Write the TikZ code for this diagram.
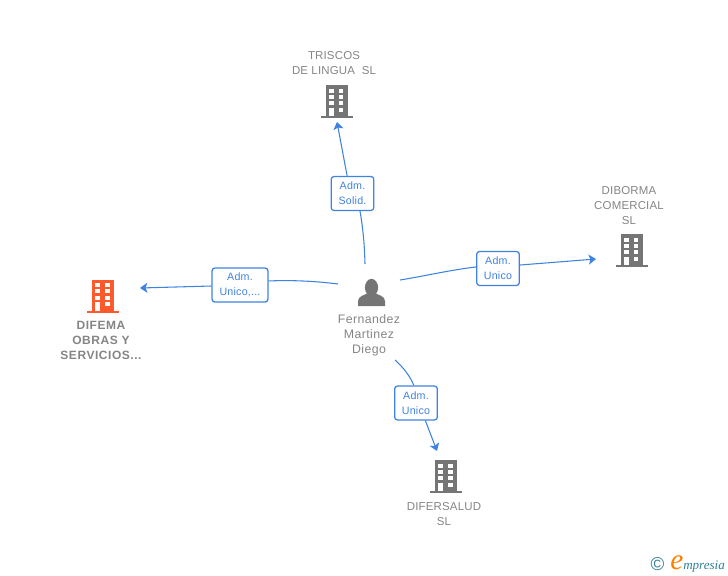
\documentclass[tikz,border=0pt]{standalone}
\usepackage{fontspec}
\setmainfont{Liberation Sans}
\newfontfamily\logofont{Liberation Serif}
\usetikzlibrary{arrows.meta}
\definecolor{linkblue}{HTML}{3F83E0}
\definecolor{labelgray}{HTML}{858585}
\definecolor{iconorange}{HTML}{FF5A2B}
\definecolor{icongray}{HTML}{757575}
\definecolor{logoteal}{HTML}{2F7F96}
\tikzset{
  bldg/.pic={
    \fill (-11,-16.5) rectangle (11,14.5);
    \fill (-16,14.5) rectangle (16,16.5);
    \foreach \cx in {-7.6,2}
      \foreach \cy in {-13,-6.7,-0.4}
        \fill[white] (\cx,\cy) rectangle ++(4.6,4);
    \fill[white] (-7.6,6) rectangle (-3,14.5);
    \fill[white] (2,6) rectangle (6.6,10);
  },
  caption/.style={font=\fontsize{8.6}{11.25}\selectfont\addfontfeature{LetterSpace=1.5}, text=labelgray, align=center, inner sep=0pt},
  rolebox/.style={draw=linkblue, fill=white, rounded corners=2.2pt, line width=0.95pt, text=linkblue,
    font=\fontsize{8}{11.25}\selectfont\addfontfeature{LetterSpace=2}, align=center, inner sep=0pt, minimum height=25.5pt},
  link/.style={linkblue, line width=0.8pt},
  arrowlink/.style={link, -{Stealth[length=5.5pt,width=7.5pt,inset=1.3pt]}}
}
\begin{document}
\begin{tikzpicture}[x=0.75pt,y=-0.75pt]
  \useasboundingbox (0,0) rectangle (728,575);

  % buildings
  \pic[fill=icongray] at (336.7,101.5) {bldg};
  \pic[fill=icongray] at (631.7,250.8) {bldg};
  \pic[fill=iconorange] at (103,296) {bldg};
  \pic[fill=icongray] at (446,476.7) {bldg};

  % person
  \fill[icongray] (371.5,287.5) ellipse (6.6 and 8.6);
  \fill[icongray] (358,306) -- (358,301) .. controls (358,296) and (365,295) .. (368,293)
    -- (375,293) .. controls (378,295) and (385,296) .. (385,301) -- (385,306) -- cycle;

  % captions
  \node[caption] (triscos) at (334,63) {TRISCOS\\DE LINGUA~~SL};
  \node[caption] (diborma) at (629,205.5) {DIBORMA\\COMERCIAL\\SL};
  \node[caption, font=\fontsize{9}{11.25}\bfseries\selectfont\addfontfeature{LetterSpace=4.5}] (difema) at (101,340) {DIFEMA\\OBRAS Y\\SERVICIOS...};
  \node[caption] (difersalud) at (444,514) {DIFERSALUD\\SL};
  \node[caption, font=\fontsize{9.25}{11.25}\selectfont\addfontfeature{LetterSpace=3.3}] (fernandez) at (369,335.5) {Fernandez\\Martinez\\Diego};

  % role boxes
  \node[rolebox, minimum width=32pt] (solid) at (352.5,193.5) {Adm.\\Solid.};
  \node[rolebox, minimum width=42pt] (unicomas) at (240,285) {Adm.\\Unico,...};
  \node[rolebox, minimum width=32pt] (unicoright) at (498,268.5) {Adm.\\Unico};
  \node[rolebox, minimum width=32pt] (unicodown) at (416,403) {Adm.\\Unico};

  % free ends
  \coordinate (ptop) at (365,264);
  \coordinate (pleft) at (338,284);
  \coordinate (pright) at (400,280);
  \coordinate (pdown) at (395,360);
  \coordinate (ttop) at (337,122);
  \coordinate (tleft) at (140,288);
  \coordinate (tright) at (596,259);
  \coordinate (tdown) at (437,451);

  % connectors
  \draw[link] (ptop) .. controls (364.5,245) and (363,228) .. (solid.-67);
  \draw[arrowlink] (solid.107) -- (ttop);
  \draw[link] (pleft) .. controls (315,281) and (290,280) .. (unicomas.8);
  \draw[arrowlink] (unicomas.182) -- (tleft);
  \draw[link] (pright) .. controls (425,276) and (450,270) .. (unicoright.176);
  \draw[arrowlink] (unicoright.9) -- (tright);
  \draw[link] (pdown) .. controls (403,367) and (410,376) .. (unicodown.97);
  \draw[arrowlink] (unicodown.-62) -- (tdown);

  % logo
  \node[inner sep=0pt, text=logoteal, font=\fontsize{14}{14}\selectfont] (copyr) at (657.5,564) {\textcopyright};
  \node[inner sep=0pt, anchor=base, text=orange, font=\logofont\itshape\fontsize{22}{22}\selectfont] (logoe) at (677,569) {e};
  \node[inner sep=0pt, anchor=base west, text=logoteal, font=\logofont\itshape\fontsize{9.8}{10}\selectfont] (logotext) at (683,569) {mpresia};
\end{tikzpicture}
\end{document}
